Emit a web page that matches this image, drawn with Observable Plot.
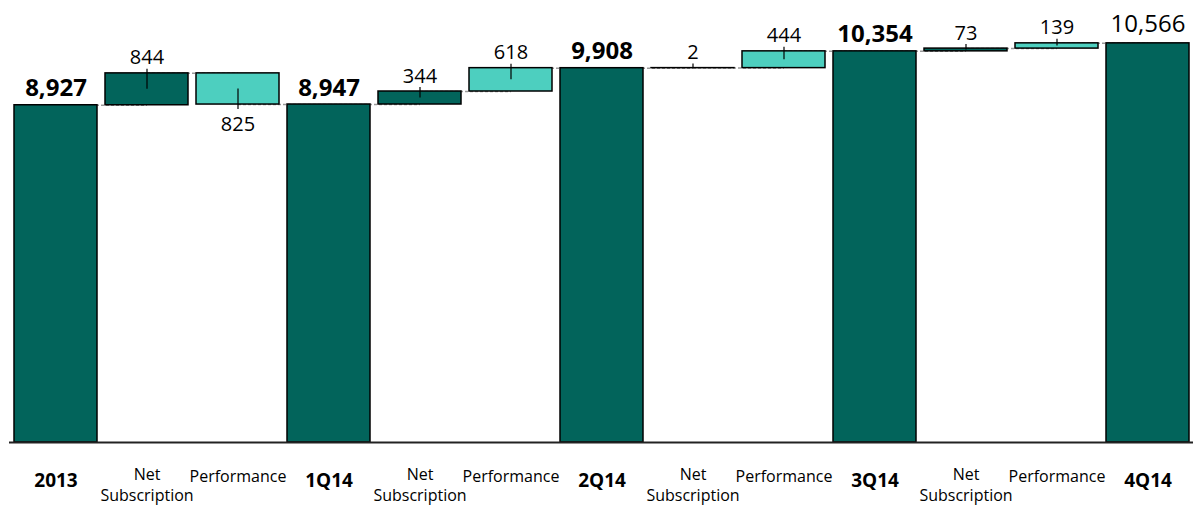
<!DOCTYPE html>
<html>
<head>
<meta charset="utf-8">
<script src="https://cdn.jsdelivr.net/npm/d3@7"></script>
<script src="https://cdn.jsdelivr.net/npm/@observablehq/plot@0.6"></script>
<style>
  html, body { margin: 0; padding: 0; background: #fff; }
  #chart svg { display: block; }
</style>
</head>
<body>
<div id="chart"></div>
<script>
// ---- data ----
const labels = ["2013", "Net\nSubscription", "Performance", "1Q14", "Net\nSubscription", "Performance",
                "2Q14", "Net\nSubscription", "Performance", "3Q14", "Net\nSubscription", "Performance", "4Q14"];
const kinds  = ["total", "sub", "perf", "total", "sub", "perf", "total", "sub", "perf", "total", "sub", "perf", "total"];
const values = [8927, 844, -825, 8947, 344, 618, 9908, 2, 444, 10354, 73, 139, 10566];

const darkTeal = "#02645b";
const lightTeal = "#4dcfbf";

// ---- build waterfall table ----
let running = 0;
const rows = values.map((v, i) => {
  let lo, hi, start, end;
  if (kinds[i] === "total") { start = 0; end = v; running = v; }
  else { start = running; end = running + v; running = end; }
  lo = Math.min(start, end); hi = Math.max(start, end);
  return {key: String(i), label: labels[i], kind: kinds[i], value: v, start, end, lo, hi,
          mid: (start + end) / 2, last: i === values.length - 1};
});
const links = rows.slice(0, -1).map((r, i) => ({a: r.key, b: rows[i + 1].key, level: r.end}));

const font = "Open Sans";
const totals = rows.filter(d => d.kind === "total");
const deltas = rows.filter(d => d.kind !== "total");

const chart = Plot.plot({
  width: 1193,
  height: 506,
  marginLeft: 9,
  marginRight: 0,
  marginTop: 0,
  marginBottom: 64,
  style: {fontFamily: font, background: "#fff", overflow: "visible"},
  x: {type: "band", domain: rows.map(d => d.key), paddingInner: 0.09, paddingOuter: 0.045, axis: null},
  y: {domain: [0, 11700], axis: null},
  marks: [
    Plot.link(links, {x1: "a", x2: "b", y1: "level", y2: "level", stroke: "#9a9a9a", strokeWidth: 1.5, strokeDasharray: "3,2"}),
    Plot.barY(rows, {x: "key", y1: "lo", y2: "hi", fill: d => d.kind === "perf" ? lightTeal : darkTeal,
                     stroke: "#000", strokeWidth: 1.5}),
    Plot.ruleY([0], {stroke: "#222", strokeWidth: 2}),
    // leader ticks
    Plot.ruleX(deltas.filter(d => d.value >= 0), {x: "key", y1: "end", y2: "mid", insetTop: -4, stroke: "#000", strokeWidth: 1.2}),
    Plot.ruleX(deltas.filter(d => d.value < 0), {x: "key", y1: "mid", y2: "end", insetBottom: -5, stroke: "#000", strokeWidth: 1.2}),
    // value labels
    Plot.text(totals.filter(d => !d.last), {x: "key", y: "end", text: d => d3.format(",")(d.value),
      lineAnchor: "bottom", dy: -9, fontSize: 24, fontWeight: "bold", fill: "#000"}),
    Plot.text(totals.filter(d => d.last), {x: "key", y: "end", text: d => d3.format(",")(d.value),
      lineAnchor: "bottom", dy: -11, fontSize: 24, fill: "#000"}),
    Plot.text(deltas.filter(d => d.value >= 0), {x: "key", y: "hi", text: d => d3.format(",")(Math.abs(d.value)),
      lineAnchor: "bottom", dy: -9, fontSize: 20, fill: "#000"}),
    Plot.text(deltas.filter(d => d.value < 0), {x: "key", y: "lo", text: d => d3.format(",")(Math.abs(d.value)),
      lineAnchor: "top", dy: 12, fontSize: 20, fill: "#000"}),
    // category labels
    Plot.text(totals, {x: "key", frameAnchor: "bottom", text: "label", lineAnchor: "bottom", dy: 44,
      fontSize: 19, fontWeight: "bold", fill: "#000"}),
    Plot.text(deltas.filter(d => d.kind === "sub"), {x: "key", frameAnchor: "bottom", text: "label", lineAnchor: "bottom", dy: 58,
      fontSize: 16, lineHeight: 1.3, fill: "#000"}),
    Plot.text(deltas.filter(d => d.kind === "perf"), {x: "key", frameAnchor: "bottom", text: "label", lineAnchor: "bottom", dy: 39,
      fontSize: 16, fill: "#000"})
  ]
});
document.getElementById("chart").append(chart);
</script>
</body>
</html>
